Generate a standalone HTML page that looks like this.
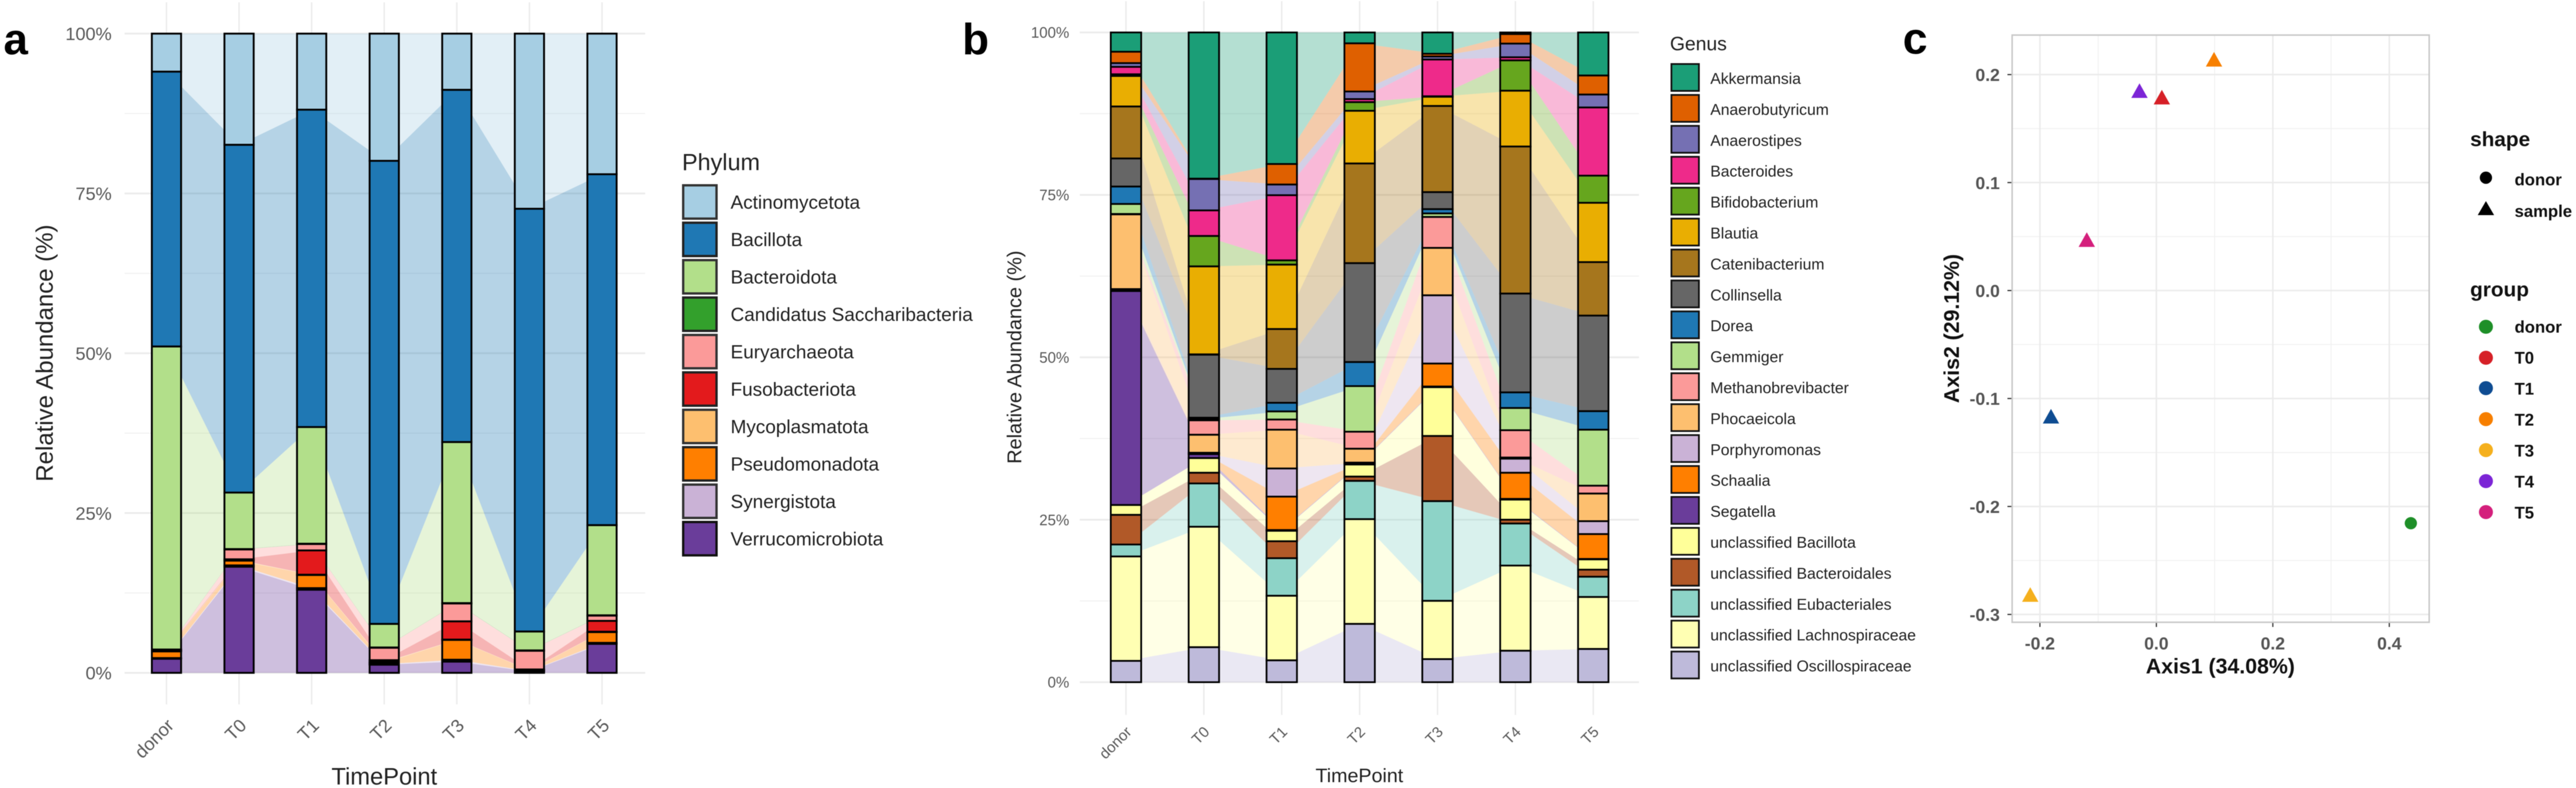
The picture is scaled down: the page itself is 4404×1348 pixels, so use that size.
<!DOCTYPE html>
<html lang="en">
<head>
<meta charset="utf-8">
<title>Microbiome composition figure</title>
<style>
html,body{margin:0;padding:0;background:#fff;}
svg{display:block;font-family:"Liberation Sans",Arial,sans-serif;}
.letter{font-weight:700;fill:#000;}
.ltxt-a{font-size:32.4px;fill:#222;}
.ltxt-b{font-size:26.8px;fill:#222;}
.ltxt-c{font-size:28.5px;font-weight:700;fill:#111;}
</style>
</head>
<body>
<svg id="figure" xmlns="http://www.w3.org/2000/svg" width="4404" height="1348" viewBox="0 0 4404 1348" style="filter:blur(0.6px)">
<rect width="4404" height="1348" fill="#fff"/>

<text class="letter" x="6" y="93" font-size="75">a</text>
<text class="letter" x="1645" y="93" font-size="75">b</text>
<text class="letter" x="3253" y="92" font-size="76">c</text>

<g id="panel-a"></g>
<g id="panel-b"></g>
<g id="panel-c"></g>

<text font-size="41" fill="#222" text-anchor="middle" transform="translate(90 604) rotate(-90)">Relative Abundance (%)</text>
<text font-size="40.5" fill="#222" text-anchor="middle" x="657" y="1342">TimePoint</text>
<text font-size="34" fill="#222" text-anchor="middle" transform="translate(1746 611) rotate(-90)">Relative Abundance (%)</text>
<text font-size="33.6" fill="#222" text-anchor="middle" x="2324" y="1338">TimePoint</text>
<text font-size="36.4" font-weight="700" fill="#111" text-anchor="middle" x="3796" y="1152">Axis1 (34.08%)</text>
<text font-size="36.4" font-weight="700" fill="#111" text-anchor="middle" transform="translate(3349 562) rotate(-90)">Axis2 (29.12%)</text>

<g stroke-width="0">
<text x="1166" y="291" font-size="40" fill="#222">Phylum</text>
<g><rect x="1168" y="317" width="57" height="57" fill="#A6CEE3" stroke="#333" stroke-width="4"/><text class="ltxt-a" x="1249" y="357">Actinomycetota</text></g>
<g><rect x="1168" y="381" width="57" height="57" fill="#1F78B4" stroke="#222" stroke-width="4"/><text class="ltxt-a" x="1249" y="421">Bacillota</text></g>
<g><rect x="1168" y="445" width="57" height="57" fill="#B2DF8A" stroke="#333" stroke-width="4"/><text class="ltxt-a" x="1249" y="485">Bacteroidota</text></g>
<g><rect x="1168" y="509" width="57" height="57" fill="#33A02C" stroke="#222" stroke-width="4"/><text class="ltxt-a" x="1249" y="549">Candidatus Saccharibacteria</text></g>
<g><rect x="1168" y="573" width="57" height="57" fill="#FB9A99" stroke="#333" stroke-width="4"/><text class="ltxt-a" x="1249" y="613">Euryarchaeota</text></g>
<g><rect x="1168" y="637" width="57" height="57" fill="#E31A1C" stroke="#222" stroke-width="4"/><text class="ltxt-a" x="1249" y="677">Fusobacteriota</text></g>
<g><rect x="1168" y="701" width="57" height="57" fill="#FDBF6F" stroke="#333" stroke-width="4"/><text class="ltxt-a" x="1249" y="741">Mycoplasmatota</text></g>
<g><rect x="1168" y="765" width="57" height="57" fill="#FF7F00" stroke="#222" stroke-width="4"/><text class="ltxt-a" x="1249" y="805">Pseudomonadota</text></g>
<g><rect x="1168" y="829" width="57" height="57" fill="#CAB2D6" stroke="#333" stroke-width="4"/><text class="ltxt-a" x="1249" y="869">Synergistota</text></g>
<g><rect x="1168" y="893" width="57" height="57" fill="#6A3D9A" stroke="#111" stroke-width="4"/><text class="ltxt-a" x="1249" y="933">Verrucomicrobiota</text></g>
</g>

<g>
<text x="2855" y="86" font-size="33" fill="#222">Genus</text>
<g><rect x="2857.5" y="109.5" width="47" height="46" fill="#1B9E77" stroke="#111" stroke-width="3"/><text class="ltxt-b" x="2924" y="143.5">Akkermansia</text></g>
<g><rect x="2857.5" y="162.4" width="47" height="46" fill="#DF6000" stroke="#111" stroke-width="3"/><text class="ltxt-b" x="2924" y="196.4">Anaerobutyricum</text></g>
<g><rect x="2857.5" y="215.3" width="47" height="46" fill="#7570B3" stroke="#111" stroke-width="3"/><text class="ltxt-b" x="2924" y="249.3">Anaerostipes</text></g>
<g><rect x="2857.5" y="268.2" width="47" height="46" fill="#EE2A8A" stroke="#111" stroke-width="3"/><text class="ltxt-b" x="2924" y="302.2">Bacteroides</text></g>
<g><rect x="2857.5" y="321.1" width="47" height="46" fill="#66A61E" stroke="#111" stroke-width="3"/><text class="ltxt-b" x="2924" y="355.1">Bifidobacterium</text></g>
<g><rect x="2857.5" y="374" width="47" height="46" fill="#E9AE02" stroke="#111" stroke-width="3"/><text class="ltxt-b" x="2924" y="408">Blautia</text></g>
<g><rect x="2857.5" y="426.9" width="47" height="46" fill="#A6761D" stroke="#111" stroke-width="3"/><text class="ltxt-b" x="2924" y="460.9">Catenibacterium</text></g>
<g><rect x="2857.5" y="479.8" width="47" height="46" fill="#666666" stroke="#111" stroke-width="3"/><text class="ltxt-b" x="2924" y="513.8">Collinsella</text></g>
<g><rect x="2857.5" y="532.7" width="47" height="46" fill="#1F78B4" stroke="#111" stroke-width="3"/><text class="ltxt-b" x="2924" y="566.7">Dorea</text></g>
<g><rect x="2857.5" y="585.6" width="47" height="46" fill="#B2DF8A" stroke="#111" stroke-width="3"/><text class="ltxt-b" x="2924" y="619.6">Gemmiger</text></g>
<g><rect x="2857.5" y="638.5" width="47" height="46" fill="#FB9A99" stroke="#111" stroke-width="3"/><text class="ltxt-b" x="2924" y="672.5">Methanobrevibacter</text></g>
<g><rect x="2857.5" y="691.4" width="47" height="46" fill="#FDBF6F" stroke="#111" stroke-width="3"/><text class="ltxt-b" x="2924" y="725.4">Phocaeicola</text></g>
<g><rect x="2857.5" y="744.3" width="47" height="46" fill="#CAB2D6" stroke="#111" stroke-width="3"/><text class="ltxt-b" x="2924" y="778.3">Porphyromonas</text></g>
<g><rect x="2857.5" y="797.2" width="47" height="46" fill="#FF7F00" stroke="#111" stroke-width="3"/><text class="ltxt-b" x="2924" y="831.2">Schaalia</text></g>
<g><rect x="2857.5" y="850.1" width="47" height="46" fill="#6A3D9A" stroke="#111" stroke-width="3"/><text class="ltxt-b" x="2924" y="884.1">Segatella</text></g>
<g><rect x="2857.5" y="903" width="47" height="46" fill="#FFFF99" stroke="#111" stroke-width="3"/><text class="ltxt-b" x="2924" y="937">unclassified Bacillota</text></g>
<g><rect x="2857.5" y="955.9" width="47" height="46" fill="#B15928" stroke="#111" stroke-width="3"/><text class="ltxt-b" x="2924" y="989.9">unclassified Bacteroidales</text></g>
<g><rect x="2857.5" y="1008.8" width="47" height="46" fill="#8DD3C7" stroke="#111" stroke-width="3"/><text class="ltxt-b" x="2924" y="1042.8">unclassified Eubacteriales</text></g>
<g><rect x="2857.5" y="1061.7" width="47" height="46" fill="#FFFFB3" stroke="#111" stroke-width="3"/><text class="ltxt-b" x="2924" y="1095.7">unclassified Lachnospiraceae</text></g>
<g><rect x="2857.5" y="1114.6" width="47" height="46" fill="#BEBADA" stroke="#111" stroke-width="3"/><text class="ltxt-b" x="2924" y="1148.6">unclassified Oscillospiraceae</text></g>
</g>

<g>
<text x="4223" y="250" font-size="35.5" font-weight="700" fill="#111">shape</text>
<g><circle cx="4250" cy="304" r="10.5" fill="#000"/><text class="ltxt-c" x="4299" y="317">donor</text></g>
<g><polygon points="4250,344 4264,368 4236,368" fill="#000"/><text class="ltxt-c" x="4299" y="371">sample</text></g>
</g>
<g>
<text x="4223" y="507" font-size="35.5" font-weight="700" fill="#111">group</text>
<g><circle cx="4250" cy="559" r="12" fill="#1E8F28"/><text class="ltxt-c" x="4299" y="569">donor</text></g>
<g><circle cx="4250" cy="612" r="12" fill="#D62027"/><text class="ltxt-c" x="4299" y="622">T0</text></g>
<g><circle cx="4250" cy="664" r="12" fill="#0E4C92"/><text class="ltxt-c" x="4299" y="675">T1</text></g>
<g><circle cx="4250" cy="717" r="12" fill="#F77F00"/><text class="ltxt-c" x="4299" y="728">T2</text></g>
<g><circle cx="4250" cy="770" r="12" fill="#F5B01D"/><text class="ltxt-c" x="4299" y="781">T3</text></g>
<g><circle cx="4250" cy="823" r="12" fill="#7C25D6"/><text class="ltxt-c" x="4299" y="834">T4</text></g>
<g><circle cx="4250" cy="876" r="12" fill="#D41F7C"/><text class="ltxt-c" x="4299" y="887">T5</text></g>
</g>
</svg>

<script>
// ---- shared categories and tick labels ----
const timePoints = ['donor', 'T0', 'T1', 'T2', 'T3', 'T4', 'T5'];
const percentTicks = [0, 25, 50, 75, 100];
const percentMinorTicks = [12.5, 37.5, 62.5, 87.5];

// ---- panel a: phylum abundance per time point ----
const phylumNames = ['Actinomycetota', 'Bacillota', 'Bacteroidota', 'Candidatus Saccharibacteria', 'Euryarchaeota', 'Fusobacteriota', 'Mycoplasmatota', 'Pseudomonadota', 'Synergistota', 'Verrucomicrobiota'];
const actinomycetota = [5.95, 17.4, 11.9, 19.9, 8.8, 27.4, 22];
const bacillota = [43, 54.4, 49.65, 72.45, 55.1, 66.14, 54.9];
const bacteroidota = [47.4, 8.85, 18.25, 3.68, 25.2, 2.96, 14.1];
const saccharibacteria = [0.05, 0.05, 0.05, 0.05, 0.05, 0.05, 0.05];
const euryarchaeota = [0.1, 1.55, 1, 1.95, 2.8, 2.93, 0.82];
const fusobacteriota = [0.1, 0.1, 3.8, 0.3, 2.85, 0.1, 1.71];
const mycoplasmatota = [0.05, 0.1, 0.05, 0.1, 0.05, 0.05, 0.05];
const pseudomonadota = [1.05, 0.75, 2.05, 0.2, 3.1, 0.1, 1.69];
const synergistota = [0.1, 0.2, 0.25, 0.1, 0.3, 0.07, 0.15];
const verrucomicrobiota = [2.2, 16.6, 13, 1.27, 1.75, 0.2, 4.53];

// ---- panel b: genus abundance per time point ----
const genusNames = ['Akkermansia', 'Anaerobutyricum', 'Anaerostipes', 'Bacteroides', 'Bifidobacterium', 'Blautia', 'Catenibacterium', 'Collinsella', 'Dorea', 'Gemmiger', 'Methanobrevibacter', 'Phocaeicola', 'Porphyromonas', 'Schaalia', 'Segatella', 'unclassified Bacillota', 'unclassified Bacteroidales', 'unclassified Eubacteriales', 'unclassified Lachnospiraceae', 'unclassified Oscillospiraceae'];
const akkermansia = [2.97, 22.51, 20.25, 1.68, 3.28, 0.25, 6.63];
const anaerobutyricum = [1.75, 0.05, 3.16, 7.41, 0.42, 1.47, 2.93];
const anaerostipes = [0.58, 4.83, 1.64, 1.17, 0.47, 2.1, 1.99];
const bacteroides = [1.14, 3.94, 10.03, 0.47, 5.66, 0.48, 10.49];
const bifidobacterium = [0.26, 4.68, 0.66, 1.33, 0.07, 4.67, 4.18];
const blautia = [4.7, 13.54, 9.91, 8.11, 1.42, 8.59, 9.13];
const catenibacterium = [8, 0.05, 6.13, 15.34, 13.26, 22.63, 8.23];
const collinsella = [4.32, 9.7, 5.22, 15.22, 2.62, 15.21, 14.71];
const dorea = [2.68, 0.2, 1.33, 3.7, 0.66, 2.4, 2.85];
const gemmiger = [1.54, 0.2, 1.25, 7.02, 0.54, 3.42, 8.62];
const methanobrevibacter = [0.06, 2.22, 1.56, 2.62, 4.76, 4.21, 1.21];
const phocaeicola = [11.5, 2.77, 5.97, 2.14, 7.3, 0.17, 4.25];
const porphyromonas = [0.2, 0.11, 4.33, 0.09, 10.5, 2.17, 1.99];
const schaalia = [0.1, 0.1, 5.15, 0.1, 3.54, 4.02, 3.83];
const segatella = [32.93, 0.61, 0.11, 0.1, 0.1, 0.11, 0.06];
const unclassifiedBacillota = [1.52, 2.26, 1.61, 1.86, 7.51, 3.09, 1.58];
const unclassifiedBacteroidales = [4.56, 1.64, 2.61, 0.66, 10.03, 0.59, 1.09];
const unclassifiedEubacteriales = [1.84, 6.67, 5.78, 5.89, 15.34, 6.47, 3.12];
const unclassifiedLachnospiraceae = [16.07, 18.54, 9.94, 16.12, 8.97, 13.11, 8];
const unclassifiedOscillospiraceae = [3.28, 5.38, 3.36, 8.97, 3.55, 4.84, 5.11];

// ---- panel c: ordination coordinates ----
const pcoaGroups = ['donor', 'T0', 'T1', 'T2', 'T3', 'T4', 'T5'];
const pcoaAxis1 = [0.437, 0.0094, -0.181, 0.099, -0.2166, -0.029, -0.1195];
const pcoaAxis2 = [-0.2155, 0.177, -0.1186, 0.212, -0.2837, 0.183, 0.045];
const pcoaXTicks = [-0.2, 0, 0.2, 0.4];
const pcoaYTicks = [-0.3, -0.2, -0.1, 0, 0.1, 0.2];
const pcoaXMinorTicks = [-0.1, 0.1, 0.3];
const pcoaYMinorTicks = [-0.25, -0.15, -0.05, 0.05, 0.15];

// ---- palettes (styling, separate from data) ----
const phylumColors = ['#A6CEE3', '#1F78B4', '#B2DF8A', '#33A02C', '#FB9A99', '#E31A1C', '#FDBF6F', '#FF7F00', '#CAB2D6', '#6A3D9A'];
const genusColors = ['#1B9E77', '#DF6000', '#7570B3', '#EE2A8A', '#66A61E', '#E9AE02', '#A6761D', '#666666', '#1F78B4', '#B2DF8A', '#FB9A99', '#FDBF6F', '#CAB2D6', '#FF7F00', '#6A3D9A', '#FFFF99', '#B15928', '#8DD3C7', '#FFFFB3', '#BEBADA'];
const pcoaColors = ['#1E8F28', '#D62027', '#0E4C92', '#F77F00', '#F5B01D', '#7C25D6', '#D41F7C'];

const phylumSeries = [actinomycetota, bacillota, bacteroidota, saccharibacteria, euryarchaeota, fusobacteriota, mycoplasmatota, pseudomonadota, synergistota, verrucomicrobiota];
const genusSeries = [akkermansia, anaerobutyricum, anaerostipes, bacteroides, bifidobacterium, blautia, catenibacterium, collinsella, dorea, gemmiger, methanobrevibacter, phocaeicola, porphyromonas, schaalia, segatella, unclassifiedBacillota, unclassifiedBacteroidales, unclassifiedEubacteriales, unclassifiedLachnospiraceae, unclassifiedOscillospiraceae];

const NS = 'http://www.w3.org/2000/svg';
function mk(parent, tag, attrs, txt) {
  const el = document.createElementNS(NS, tag);
  for (const k in attrs) el.setAttribute(k, attrs[k]);
  if (txt !== undefined) el.textContent = txt;
  parent.appendChild(el);
  return el;
}
function slug(s) { return String(s).toLowerCase().replace(/[^a-z0-9]+/g, '-'); }

function drawStack(root, prefix, cfg, names, series, colors) {
  const xs = i => cfg.x0 + i * cfg.step;
  const ys = v => cfg.y0 - v * cfg.yPerPct;

  // gridlines
  percentMinorTicks.forEach(v => {
    const g = mk(root, 'line', {x1: cfg.gridL, x2: cfg.gridR, y1: ys(v), y2: ys(v), stroke: '#f0f0f0', 'stroke-width': 1.6});
    
    
  });
  percentTicks.forEach(v => {
    const g = mk(root, 'line', {x1: cfg.gridL, x2: cfg.gridR, y1: ys(v), y2: ys(v), stroke: '#ebebeb', 'stroke-width': 3});
    
    
    const t = mk(root, 'text', {x: cfg.tickRight, y: ys(v) + cfg.tickFont * 0.36, 'text-anchor': 'end', 'font-size': cfg.tickFont, fill: '#5a5a5a'}, v + '%');
    
    
  });
  timePoints.forEach((name, i) => {
    const g = mk(root, 'line', {x1: xs(i), x2: xs(i), y1: cfg.gridT, y2: cfg.gridB, stroke: '#ebebeb', 'stroke-width': 2.4});
    
    
    const lx = xs(i) + cfg.lblDx, ly = cfg.lblY;
    const t = mk(root, 'text', {x: lx, y: ly, 'text-anchor': 'end', 'font-size': cfg.tickFont, fill: '#5a5a5a', transform: 'rotate(-45 ' + lx + ' ' + ly + ')'}, name);
    
    
  });

  // stacked positions, normalised per time point (top series first)
  const totals = timePoints.map((_, t) => series.reduce((a, s) => a + s[t], 0));
  const tops = [];
  const running = timePoints.map(() => 100);
  series.forEach(s => {
    const hi = running.slice();
    const lo = running.map((r, t) => r - s[t] / totals[t] * 100);
    tops.push({hi: hi, lo: lo});
    lo.forEach((v, t) => { running[t] = v; });
  });

  // flow areas between bar centres
  series.forEach((s, k) => {
    const upper = timePoints.map((_, t) => xs(t) + ',' + ys(tops[k].hi[t]));
    const lower = timePoints.map((_, t) => xs(t) + ',' + ys(tops[k].lo[t])).reverse();
    const area = mk(root, 'polygon', {points: upper.concat(lower).join(' '), fill: colors[k], 'fill-opacity': 0.33});
    
    
  });

  // bars
  timePoints.forEach((tp, t) => {
    series.forEach((s, k) => {
      const y1 = ys(tops[k].hi[t]), y2 = ys(tops[k].lo[t]);
      const bar = mk(root, 'rect', {x: xs(t) - cfg.barW / 2, y: y1, width: cfg.barW, height: Math.max(0, y2 - y1), fill: colors[k], stroke: '#000', 'stroke-width': cfg.stroke});
      
      
    });
  });
}

drawStack(document.getElementById('panel-a'), 'phylum',
  {x0: 284.6, step: 124.1, y0: 1151, yPerPct: 10.935, barW: 50, stroke: 3.2,
   gridL: 213, gridR: 1103, gridT: 4, gridB: 1205, tickRight: 191, tickFont: 31, lblDx: 14.5, lblY: 1243},
  phylumNames, phylumSeries, phylumColors);

drawStack(document.getElementById('panel-b'), 'genus',
  {x0: 1925, step: 133.15, y0: 1167, yPerPct: 11.115, barW: 52, stroke: 3,
   gridL: 1846, gridR: 2802, gridT: 2, gridB: 1223, tickRight: 1828, tickFont: 25.6, lblDx: 11, lblY: 1253.6},
  genusNames, genusSeries, genusColors);

// ---- panel c scatter ----
(function () {
  const root = document.getElementById('panel-c');
  const L = 3440, R = 4153, T = 60, B = 1064.5;
  const xs = v => 3686.6 + v * 995.5;
  const ys = v => 497 - v * 1847;

  pcoaXMinorTicks.forEach(v => {
    const g = mk(root, 'line', {x1: xs(v), x2: xs(v), y1: T, y2: B, stroke: '#f1f1f1', 'stroke-width': 1.6});
    
    
  });
  pcoaYMinorTicks.forEach(v => {
    const g = mk(root, 'line', {x1: L, x2: R, y1: ys(v), y2: ys(v), stroke: '#f1f1f1', 'stroke-width': 1.6});
    
    
  });
  pcoaXTicks.forEach(v => {
    const g = mk(root, 'line', {x1: xs(v), x2: xs(v), y1: T, y2: B, stroke: '#ebebeb', 'stroke-width': 2.6});
    
    
    const m = mk(root, 'line', {x1: xs(v), x2: xs(v), y1: B, y2: B + 8, stroke: '#333', 'stroke-width': 2});
    
    
    const t = mk(root, 'text', {x: xs(v), y: 1111, 'text-anchor': 'middle', 'font-size': 30, 'font-weight': 700, fill: '#555'}, v.toFixed(1));
    
    
  });
  pcoaYTicks.forEach(v => {
    const g = mk(root, 'line', {x1: L, x2: R, y1: ys(v), y2: ys(v), stroke: '#ebebeb', 'stroke-width': 2.6});
    
    
    const m = mk(root, 'line', {x1: L - 8, x2: L, y1: ys(v), y2: ys(v), stroke: '#333', 'stroke-width': 2});
    
    
    const t = mk(root, 'text', {x: 3419, y: ys(v) + 11, 'text-anchor': 'end', 'font-size': 30, 'font-weight': 700, fill: '#555'}, v.toFixed(1));
    
    
  });
  const frame = mk(root, 'rect', {x: L, y: T, width: R - L, height: B - T, fill: 'none', stroke: '#c8c8c8', 'stroke-width': 2.6});
  
  

  pcoaGroups.forEach((grp, i) => {
    const px = xs(pcoaAxis1[i]), py = ys(pcoaAxis2[i]);
    let pt;
    if (grp === 'donor') {
      pt = mk(root, 'circle', {cx: px, cy: py, r: 10.5, fill: pcoaColors[i]});
    } else {
      const pts = px + ',' + (py - 16.5) + ' ' + (px + 14) + ',' + (py + 8.5) + ' ' + (px - 14) + ',' + (py + 8.5);
      pt = mk(root, 'polygon', {points: pts, fill: pcoaColors[i]});
    }
    
    
  });
})();
</script>
</body>
</html>
